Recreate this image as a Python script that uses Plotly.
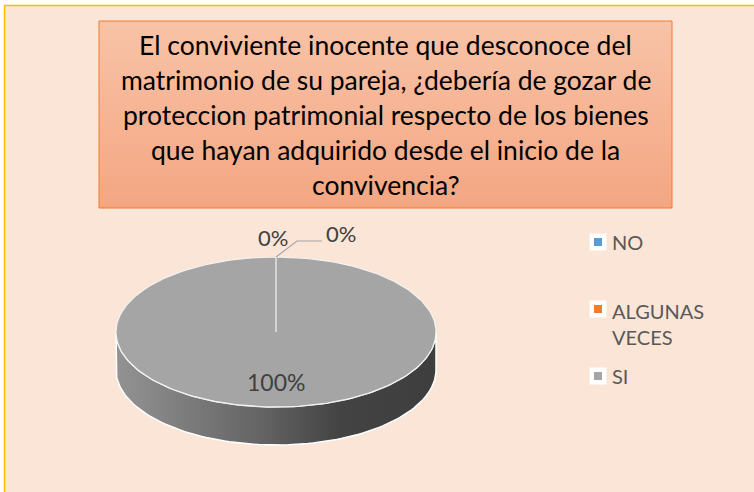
import numpy as np
import plotly.graph_objects as go

# ---------------- data ----------------
categories = ["NO", "ALGUNAS VECES", "SI"]
legend_labels = ["NO", "ALGUNAS<br>VECES", "SI"]
values = [0, 0, 100]
title_lines = [
    "El conviviente inocente que desconoce del",
    "matrimonio de su pareja, ¿debería de gozar de",
    "proteccion patrimonial respecto de los bienes",
    "que hayan adquirido desde el inicio de la",
    "convivencia?",
]

# ---------------- style / layout ----------------
W, H = 754, 492
colors = ["#5B9BD5", "#ED7D31", "#A5A5A5"]
side_scale = [[0, "#939393"], [0.45, "#646464"], [0.7, "#434343"], [1, "#3E3E3E"]]
CX, CY, RX, RY, DEPTH = 276, 332, 160, 75, 38
FONT = "Lato, Calibri, Carlito, sans-serif"
LBL_COLOR = "#404040"
# offsets (px) of outside labels relative to the slice's outer edge point
outside_offsets = [(-3, -20), (65, -24), None]
legend_y = [242, 323.5, 376]
legend_marker_y = [242, 309, 376]

fig = go.Figure()

# outer chart area
fig.add_shape(type="rect", xref="x", yref="y", x0=4.5, y0=5.5, x1=W + 20, y1=H + 20,
              fillcolor="#FBE5D6", line=dict(color="#FFC000", width=1.5), layer="below")

# title box with gradient
bx0, by0, bx1, by1 = 99, 21, 672, 208
fig.add_trace(go.Scatter(
    x=[bx0, bx1, bx1, bx0, bx0], y=[by0, by0, by1, by1, by0], mode="lines",
    fill="toself", line=dict(color="#ED7D31", width=1),
    fillgradient=dict(type="vertical", colorscale=[[0, "#F8C3A7"], [1, "#F4A682"]],
                      start=by0, stop=by1),
    hoverinfo="skip", showlegend=False))

# ---------------- pie geometry from values ----------------
total = float(sum(values))
angles = []
a = -np.pi / 2
for v in values:
    a1 = a + 2 * np.pi * v / total
    angles.append((a, a1))
    a = a1

def arc(t0, t1, dy=0.0, n=200):
    t = np.linspace(t0, t1, max(2, int(n * abs(t1 - t0) / (2 * np.pi)) + 2))
    return CX + RX * np.cos(t), CY + dy + RY * np.sin(t)

# sides (visible front half: t in [0, pi])
for (a0, a1), v in zip(angles, values):
    b0, b1 = max(a0, 0.0), min(a1, np.pi)
    if v <= 0 or b1 <= b0:
        continue
    xt, yt = arc(b0, b1)
    xb, yb = arc(b1, b0, dy=DEPTH)
    xs = np.concatenate([xt, xb, xt[:1]])
    ys = np.concatenate([yt, yb, yt[:1]])
    fig.add_trace(go.Scatter(
        x=xs, y=ys, mode="lines", fill="toself",
        line=dict(color="white", width=1.5),
        fillgradient=dict(type="horizontal", colorscale=side_scale,
                          start=CX - RX, stop=CX + RX),
        hoverinfo="skip", showlegend=False))

# top faces
for (a0, a1), v, c in zip(angles, values, colors):
    xa, ya = arc(a0, a1)
    xs = np.concatenate([[CX], xa, [CX]])
    ys = np.concatenate([[CY], ya, [CY]])
    fig.add_trace(go.Scatter(
        x=xs, y=ys, mode="lines", fill="toself" if v > 0 else "none",
        fillcolor=c, line=dict(color="#F2F2F2", width=1.2),
        hoverinfo="skip", showlegend=False))

# data labels
for (a0, a1), v, off in zip(angles, values, outside_offsets):
    pct = f"{round(100 * v / total)}%"
    mid = (a0 + a1) / 2
    if v > 0:
        fig.add_annotation(x=CX + 0.67 * RX * np.cos(mid), y=CY + 0.67 * RY * np.sin(mid),
                           text=pct, showarrow=False,
                           font=dict(family=FONT, size=23, color=LBL_COLOR))
    else:
        ex, ey = CX + RX * np.cos(mid), CY + RY * np.sin(mid)
        lx, ly = ex + off[0], ey + off[1]
        if abs(off[0]) > 20:
            fig.add_trace(go.Scatter(
                x=[ex, ex + 21, lx - 19], y=[ey, ey - 16, ey - 16], mode="lines",
                line=dict(color="#A6A6A6", width=1.2), hoverinfo="skip", showlegend=False))
        fig.add_annotation(x=lx, y=ly, text=pct, showarrow=False,
                           font=dict(family=FONT, size=22, color=LBL_COLOR))

# title text
for i, line in enumerate(title_lines):
    fig.add_annotation(x=385.5, y=45 + 35 * i, text=line, showarrow=False,
                       font=dict(family=FONT, size=26.5, color="#000000"))

# legend (manual)
for lab, c, ym, yt in zip(legend_labels, colors, legend_marker_y, legend_y):
    fig.add_trace(go.Scatter(x=[598], y=[ym], mode="markers",
                             marker=dict(symbol="square", size=17, color="white"),
                             hoverinfo="skip", showlegend=False))
    fig.add_trace(go.Scatter(x=[598], y=[ym], mode="markers",
                             marker=dict(symbol="square", size=8, color=c),
                             hoverinfo="skip", showlegend=False))
    fig.add_annotation(x=610, y=yt, text=lab, showarrow=False, xanchor="left", align="left",
                       font=dict(family=FONT, size=20, color="#595959"))

fig.update_layout(
    width=W, height=H, margin=dict(l=0, r=0, t=0, b=0),
    paper_bgcolor="white", plot_bgcolor="rgba(0,0,0,0)",
    xaxis=dict(range=[0, W], visible=False, fixedrange=True),
    yaxis=dict(range=[H, 0], visible=False, fixedrange=True),
    showlegend=False,
)
fig.write_html("out.html", config={"displayModeBar": False},
               post_script="document.body.style.margin='0';")
